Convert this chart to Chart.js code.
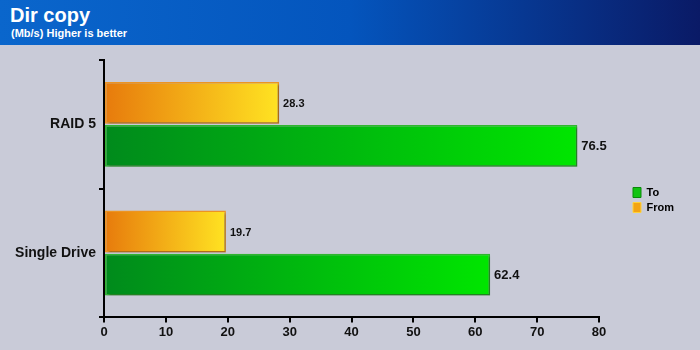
<!DOCTYPE html>
<html>
<head>
<meta charset="utf-8">
<script src="https://cdn.jsdelivr.net/npm/chart.js@4"></script>
<style>
    body { margin: 0; width: 700px; height: 350px; background: #c9cbd8; overflow: hidden; font-family: Arial, "Liberation Sans", sans-serif; }
    .header { height: 45px; background: linear-gradient(to right, #0a66cc 0%, #0455bd 50%, #0a1a66 100%); color: #fff; position: relative; }
    .header h1 { margin: 0; position: absolute; left: 10px; top: 5px; font-size: 20px; line-height: 20px; font-weight: bold; }
    .header p { margin: 0; position: absolute; left: 11px; top: 28px; font-size: 11px; line-height: 11px; font-weight: bold; }
    #wrap { position: absolute; left: 0; top: 45px; }
</style>
</head>
<body>
<div class="header">
    <h1>Dir copy</h1>
    <p>(Mb/s) Higher is better</p>
</div>
<div id="wrap"><canvas id="dirChart" width="700" height="305"></canvas></div>
<script>
// Chart data
const categories = ['RAID 5', 'Single Drive'];
const fromValues = [28.3, 19.7];
const toValues = [76.5, 62.4];
const xTicks = [0, 10, 20, 30, 40, 50, 60, 70, 80];

const FONT = 'Arial, "Liberation Sans", sans-serif';

// Horizontal gradient from the axis to the end of each bar
function barGradient(startColor, endColor) {
    return function(context) {
        const chart = context.chart;
        const xScale = chart.scales.x;
        if (!chart.chartArea || !xScale || context.raw === undefined) return endColor;
        const x0 = xScale.getPixelForValue(0);
        const x1 = xScale.getPixelForValue(context.raw);
        const g = chart.ctx.createLinearGradient(x0, 0, x1, 0);
        g.addColorStop(0, startColor);
        g.addColorStop(1, endColor);
        return g;
    };
}

// Soft shadow under bars
const barShadow = {
    id: 'barShadow',
    beforeDatasetsDraw(chart) {
        const ctx = chart.ctx;
        ctx.save();
        ctx.shadowColor = 'rgba(0, 0, 0, 0.3)';
        ctx.shadowOffsetX = 2;
        ctx.shadowOffsetY = 2;
        ctx.shadowBlur = 2;
    },
    afterDatasetsDraw(chart) {
        chart.ctx.restore();
    }
};

// Value labels at the end of bars
const valueLabels = {
    id: 'valueLabels',
    afterDatasetsDraw(chart) {
        const ctx = chart.ctx;
        ctx.save();
        ctx.fillStyle = '#111';
        ctx.textBaseline = 'middle';
        ctx.textAlign = 'left';
        chart.data.datasets.forEach((ds, i) => {
            const meta = chart.getDatasetMeta(i);
            ctx.font = 'bold ' + (i === 1 ? 13 : 11) + 'px ' + FONT;
            meta.data.forEach((bar, j) => {
                ctx.fillText(ds.data[j].toFixed(1), bar.x + 4, bar.y + 1);
            });
        });
        ctx.restore();
    }
};

// Push the legend a bit further right of the plot
const legendShift = {
    id: 'legendShift',
    afterLayout(chart) {
        const lg = chart.legend;
        if (!lg) return;
        lg.left += 30;
        lg.right += 30;
        lg.top -= 1;
        lg.bottom -= 1;
    }
};

new Chart(document.getElementById('dirChart'), {
    type: 'bar',
    data: {
        labels: categories,
        datasets: [
            {
                label: 'From',
                data: fromValues,
                backgroundColor: barGradient('#e77a0c', '#ffe322'),
                borderColor: '#ec9422',
                borderWidth: 1.5,
                borderSkipped: false,
                categoryPercentage: 0.67,
                barPercentage: 0.97
            },
            {
                label: 'To',
                data: toValues,
                backgroundColor: barGradient('#008a1c', '#00e600'),
                borderColor: '#2fb52f',
                borderWidth: 1.5,
                borderSkipped: false,
                categoryPercentage: 0.67,
                barPercentage: 0.97
            }
        ]
    },
    options: {
        indexAxis: 'y',
        responsive: false,
        animation: false,
        layout: {
            padding: { left: 0, right: 46, top: 15, bottom: 8 }
        },
        plugins: {
            tooltip: { enabled: false },
            legend: {
                position: 'right',
                reverse: true,
                labels: {
                    boxWidth: 8,
                    boxHeight: 10,
                    padding: 4,
                    color: '#111',
                    font: { family: FONT, size: 11, weight: 'bold' },
                    generateLabels: function(chart) {
                        return chart.data.datasets.map((ds, i) => ({
                            text: ds.label,
                            fillStyle: i === 0 ? '#f3a414' : '#12c412',
                            strokeStyle: i === 0 ? '#ffd23a' : '#0a8a0a',
                            lineWidth: 1,
                            datasetIndex: i
                        }));
                    }
                }
            }
        },
        scales: {
            x: {
                min: 0,
                max: 80,
                afterBuildTicks: function(scale) {
                    scale.ticks = xTicks.map(v => ({ value: v }));
                },
                border: { color: '#000', width: 2 },
                grid: { drawOnChartArea: false, drawTicks: true, tickLength: 5, color: '#000', lineWidth: 2 },
                ticks: {
                    color: '#111',
                    padding: 2,
                    font: { family: FONT, size: 13, weight: 'bold' }
                }
            },
            y: {
                afterFit: function(scale) { scale.width = 104; },
                border: { color: '#000', width: 2 },
                grid: { drawOnChartArea: false, drawTicks: true, tickLength: 5, color: '#000', lineWidth: 2, offset: true },
                ticks: {
                    color: '#111',
                    padding: 3,
                    font: { family: FONT, size: 14, weight: 'bold' }
                }
            }
        }
    },
    plugins: [barShadow, valueLabels, legendShift]
});
</script>
</body>
</html>
